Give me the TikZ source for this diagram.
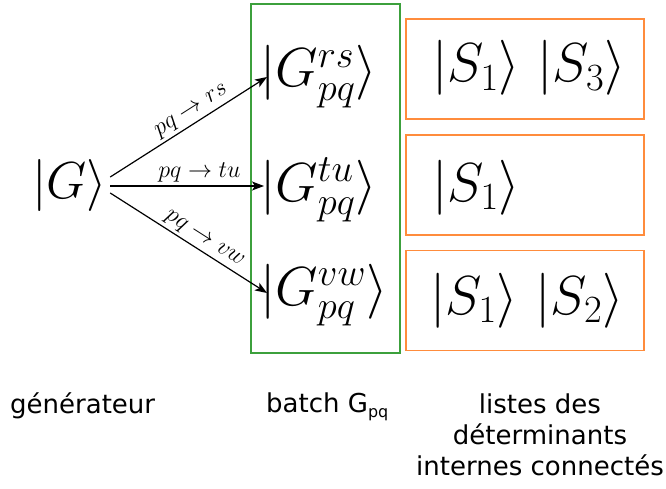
\RequirePackage{fix-cm}
\documentclass[tikz,border=0pt]{standalone}
\usepackage{fontspec}
\setmainfont{DejaVu Sans}
\usetikzlibrary{arrows.meta}
\definecolor{boxgreen}{RGB}{60,160,60}
\definecolor{boxorange}{RGB}{255,140,60}
\begin{document}
\begin{tikzpicture}[x=1pt,y=-1pt,
  ket/.style={inner sep=0pt,anchor=base west,font=\fontsize{55}{64}\selectfont},
  bigket/.style={inner sep=0pt,anchor=base west,font=\fontsize{52}{60}\selectfont},
  lab/.style={font=\fontsize{24}{28}\selectfont,inner sep=3pt},
  arr/.style={-{Stealth[length=12pt,width=9pt,inset=3pt]},line width=1.2pt},
  gbox/.style={draw=boxgreen,line width=1.2pt,minimum width=149pt,minimum height=349pt,inner sep=0pt},
  obox/.style={draw=boxorange,line width=1.2pt,minimum width=238pt,minimum height=100pt,inner sep=0pt},
  caption/.style={font=\fontsize{26}{31}\selectfont,inner sep=0pt,align=center}]
\useasboundingbox (0,0) rectangle (666,489);
\node[gbox] (batch) at (325.5,178.5) {};
\node[obox] (b1) at (525,69) {};
\node[obox] (b2) at (525,185) {};
\node[obox] (b3) at (525,300.5) {};
\node[bigket] (G) at (32,198) {$|G\rangle$};
\node[ket] (g1) at (260,87) {$|G^{rs}_{pq}\rangle$};
\node[ket] (g2) at (260,201) {$|G^{tu}_{pq}\rangle$};
\node[ket] (g3) at (260,305) {$|G^{vw}_{pq}\rangle$};
\node[ket] (s1) at (432,82) {$|S_1\rangle$\ $|S_3\rangle$};
\node[ket] (s2) at (432,201) {$|S_1\rangle$};
\node[ket] (s3) at (430,314) {$|S_1\rangle$\ $|S_2\rangle$};
\draw[arr] ([xshift=3pt,yshift=21pt]G.base east) -- node[lab,pos=0.56,sloped,above] {$pq\to rs$} ([xshift=7pt,yshift=10pt]g1.base west);
\draw[arr] ([xshift=3pt,yshift=12pt]G.base east) -- node[lab,pos=0.58,above] {$pq\to tu$} ([xshift=4pt,yshift=15pt]g2.base west);
\draw[arr] ([xshift=3pt,yshift=5pt]G.base east) -- node[lab,pos=0.56,sloped,above] {$pq\to vw$} ([xshift=7pt,yshift=12pt]g3.base west);
\node[caption,anchor=base west] (c1) at (10,413) {générateur};
\node[caption,anchor=base west] (c2) at (266,412) {batch G\raisebox{-5pt}{\fontsize{16}{16}\selectfont pq}};
\node[caption,anchor=base] (c3) at (540,475) {listes des\\déterminants\\internes connectés};
\end{tikzpicture}
\end{document}
